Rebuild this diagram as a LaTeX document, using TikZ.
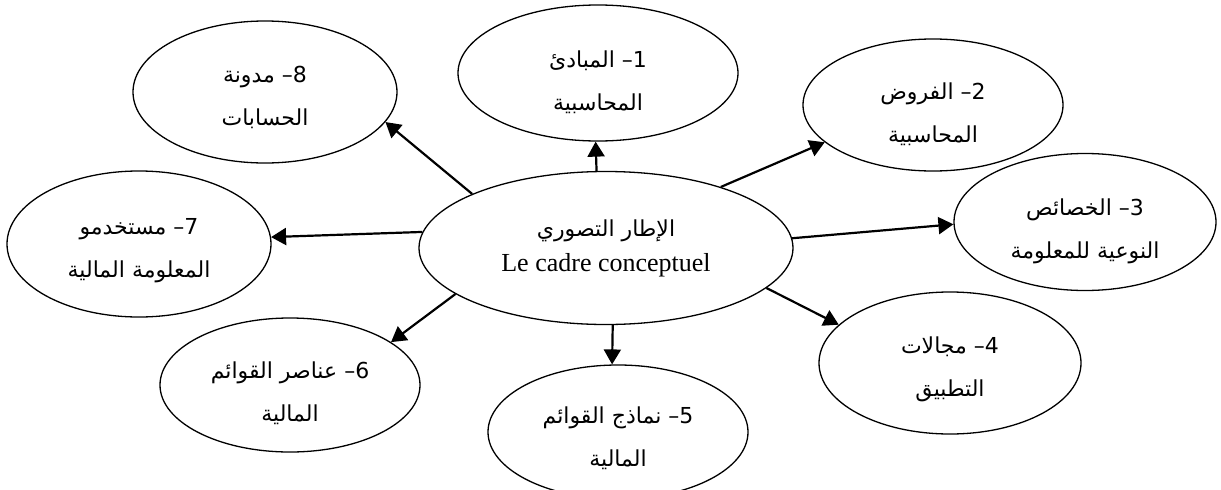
\documentclass[tikz,border=0pt]{standalone}
\usepackage{fontspec}
\setmainfont{Liberation Serif}
\newfontfamily\arabicfont[Script=Arabic]{DejaVu Sans}
\TeXXeTstate=1
\usetikzlibrary{shapes.geometric,arrows.meta}
% right-to-left line of Arabic text
\newcommand\artext[1]{\beginR #1\endR}
% invisible strut that sets how far the first line sits from the top
\newcommand\topstrut[1]{\rule{0pt}{#1pt}}
\begin{document}
\begin{tikzpicture}[x=1pt,y=-1pt,
  bubble/.style={draw, line width=1.3pt, ellipse, inner sep=0pt, align=center,
    font=\fontsize{22}{43}\selectfont\arabicfont},
  link/.style={line width=2.2pt, -{Triangle[length=15pt,width=17pt]}}]
\useasboundingbox (0,0) rectangle (1221,490);

% central concept
\node[bubble, minimum width=374pt, minimum height=153pt] (core) at (606,248)
  {\artext{الإطار التصوري}\\[-8pt]
   {\fontsize{26}{30}\selectfont\rmfamily Le cadre conceptuel}};

% surrounding components
\node[bubble, minimum width=280pt, minimum height=136pt] (e1) at (598,73)
  {\topstrut{35}\artext{1– المبادئ}\\\artext{المحاسبية}};
\node[bubble, minimum width=260pt, minimum height=132pt] (e2) at (933,105)
  {\topstrut{35}\artext{2– الفروض}\\\artext{المحاسبية}};
\node[bubble, minimum width=262pt, minimum height=137pt] (e3) at (1085,222)
  {\topstrut{35}\artext{3– الخصائص}\\\artext{النوعية للمعلومة}};
\node[bubble, minimum width=262pt, minimum height=142pt] (e4) at (950,363)
  {\topstrut{29}\artext{4– مجالات}\\\artext{التطبيق}};
\node[bubble, minimum width=260pt, minimum height=134pt] (e5) at (618,432)
  {\topstrut{30}\artext{5– نماذج القوائم}\\\artext{المالية}};
\node[bubble, minimum width=260pt, minimum height=134pt] (e6) at (290,385)
  {\topstrut{33}\artext{6– عناصر القوائم}\\\artext{المالية}};
\node[bubble, minimum width=264pt, minimum height=146pt] (e7) at (139,244)
  {\topstrut{30}\artext{7– مستخدمو}\\\artext{المعلومة المالية}};
\node[bubble, minimum width=264pt, minimum height=142pt] (e8) at (265,92)
  {\topstrut{27}\artext{8– مدونة}\\\artext{الحسابات}};

% arrows from the core
\draw[link] (core.97.6)  -- (e1.268.3);
\draw[link] (core.28)    -- (e2.199.4);
\draw[link] (core.3.4)   -- (e3.181.3);
\draw[link] (core.-14.5) -- (e4.161.7);
\draw[link] (core.-85.5) -- (e5.95);
\draw[link] (core.197)   -- (e6.23.2);
\draw[link] (core.175.4) -- (e7.3.9);
\draw[link] (core.158.7) -- (e8.-14.5);
\end{tikzpicture}
\end{document}
